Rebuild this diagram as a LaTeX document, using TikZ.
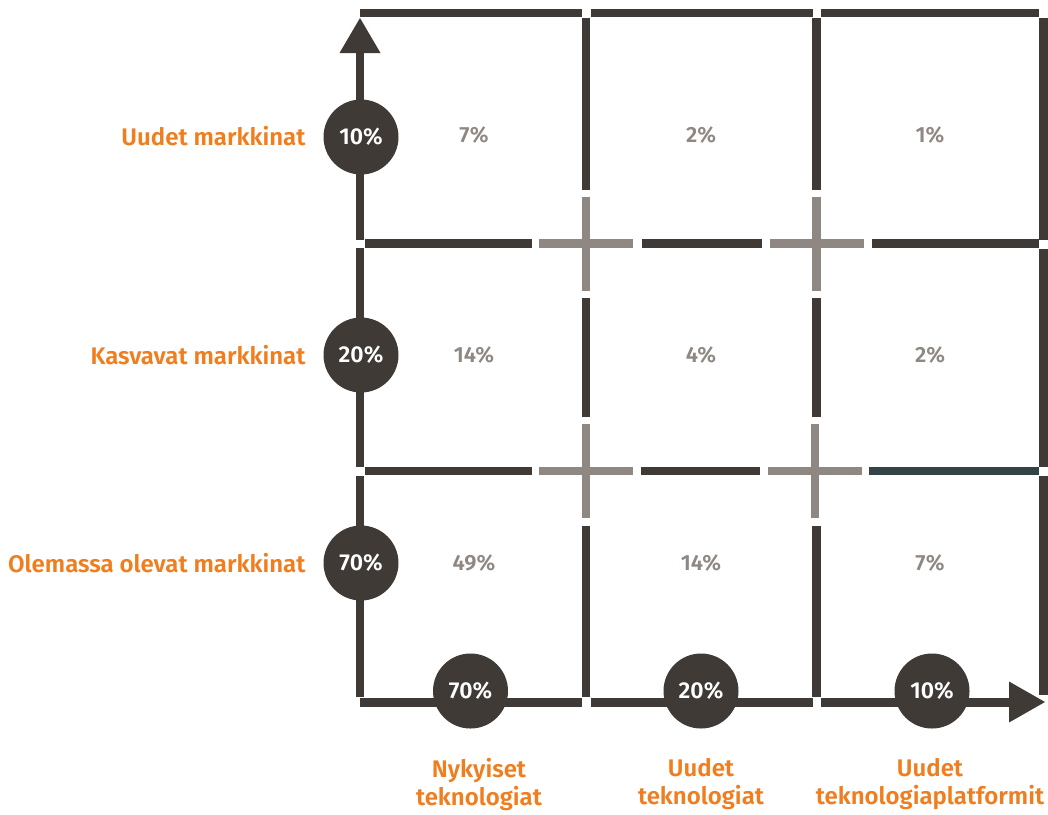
\documentclass[tikz,border=0pt]{standalone}
\usepackage{fontspec}
\setmainfont{Fira Sans}[BoldFont={Fira Sans SemiBold}]
\definecolor{ink}{HTML}{3F3A36}
\definecolor{crossgray}{HTML}{8F8781}
\definecolor{slate}{HTML}{344446}
\definecolor{accent}{HTML}{F07D1E}
\begin{document}
\begin{tikzpicture}[x=1pt,y=-1pt,
  gridline/.style={draw=ink, line width=8.5pt, line cap=butt},
  crossline/.style={draw=crossgray, line width=8.5pt, line cap=butt},
  tealline/.style={draw=slate, line width=8.5pt, line cap=butt},
  tip/.style={fill=ink, draw=none},
  badge/.style={circle, fill=ink, draw=none, minimum size=75pt, inner sep=0pt,
    text=white, font=\fontsize{23}{27}\selectfont\bfseries},
  share/.style={text=crossgray, font=\fontsize{22}{26}\selectfont\bfseries},
  rowlabel/.style={anchor=east, text=accent, font=\fontsize{24}{28}\selectfont\bfseries},
  collabel/.style={align=center, text=accent, font=\fontsize{24}{28}\selectfont\bfseries}]
\useasboundingbox (0,0) rectangle (1048,814);

% top edge
\draw[gridline] (360,13) -- (581.5,13);
\draw[gridline] (590.5,13) -- (812.5,13);
\draw[gridline] (820.5,13) -- (1039,13);

% right edge
\draw[gridline] (1043.5,18) -- (1043.5,239.5);
\draw[gridline] (1043.5,248.5) -- (1043.5,467);
\draw[gridline] (1043.5,475.5) -- (1043.5,695);

% left axis (vertical) with arrow
\draw[gridline] (360,697) -- (360,475.5);
\draw[gridline] (360,467) -- (360,248);
\draw[gridline] (360,239.5) -- (360,50);
\fill[tip] (360,18) -- (380.5,53) -- (339.5,53) -- cycle;

% inner column lines
\draw[gridline] (586,17.5) -- (586,190);
\draw[gridline] (586,298) -- (586,417);
\draw[gridline] (586,526) -- (586,697);
\draw[gridline] (816.5,17.5) -- (816.5,190);
\draw[gridline] (816.5,298) -- (816.5,417);
\draw[gridline] (816.5,526) -- (816.5,697);

% inner row lines
\draw[gridline] (364.5,243.5) -- (531.5,243.5);
\draw[gridline] (641.5,243.5) -- (761.5,243.5);
\draw[gridline] (872,243.5) -- (1039,243.5);
\draw[gridline] (364.5,471) -- (531.5,471);
\draw[gridline] (641,471) -- (759.5,471);
\draw[tealline] (868.5,471) -- (1039,471);

% crossings
\foreach \cx/\cy in {586/243.5, 816.5/243.5, 586/471, 815/471}{
  \draw[crossline] (\cx-47,\cy) -- (\cx+47,\cy);
  \draw[crossline] (\cx,\cy-47) -- (\cx,\cy+47);
}

% bottom axis (horizontal) with arrow
\draw[gridline] (360,702.5) -- (582,702.5);
\draw[gridline] (590.5,702.5) -- (812.5,702.5);
\draw[gridline] (820.5,702.5) -- (1015,702.5);
\fill[tip] (1045,702) -- (1009,681.5) -- (1009,722.5) -- cycle;

% axis badges
\node[badge] (m10) at (361,137) {10\%};
\node[badge] (m20) at (361,355) {20\%};
\node[badge] (m70) at (361,563) {70\%};
\node[badge] (t70) at (470.5,691) {70\%};
\node[badge] (t20) at (701,691) {20\%};
\node[badge] (t10) at (932,691) {10\%};

% cell shares
\node[share] (c11) at (474,135) {7\%};
\node[share] (c12) at (701,135) {2\%};
\node[share] (c13) at (930,135) {1\%};
\node[share] (c21) at (474,355) {14\%};
\node[share] (c22) at (701,355) {4\%};
\node[share] (c23) at (930,355) {2\%};
\node[share] (c31) at (474,563) {49\%};
\node[share] (c32) at (701,563) {14\%};
\node[share] (c33) at (930,563) {7\%};

% market labels
\node[rowlabel] (lnew) at (309,136) {Uudet markkinat};
\node[rowlabel] (lgrow) at (309,355) {Kasvavat markkinat};
\node[rowlabel] (lold) at (309,563) {Olemassa olevat markkinat};

% technology labels
\node[collabel] (tcur) at (479,784) {Nykyiset\\teknologiat};
\node[collabel] (tnew) at (701,784) {Uudet\\teknologiat};
\node[collabel] (tplat) at (930,784) {Uudet\\teknologiaplatformit};
\end{tikzpicture}
\end{document}
